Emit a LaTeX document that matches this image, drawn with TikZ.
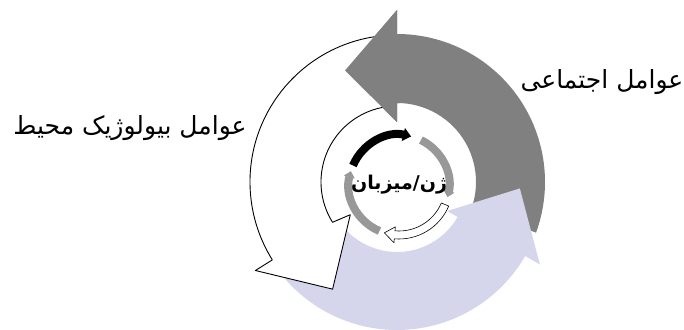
\documentclass[tikz,border=0pt]{standalone}
\usepackage{fontspec}
\newfontfamily\arabicfont[Script=Arabic]{DejaVu Sans}
\TeXXeTstate=1
\usetikzlibrary{arrows.meta}
\definecolor{socialgray}{RGB}{128,128,128}
\definecolor{biolilac}{RGB}{213,214,236}
\definecolor{ringgray}{RGB}{152,152,152}
\tikzset{
  socialband/.style={fill=socialgray},
  bioband/.style={fill=biolilac},
  envband/.style={fill=white, draw=black, line width=0.9pt, line join=round},
  ringarc/.style={line width=8pt, -{Triangle[width=13pt,length=8pt]}},
  factor/.style={font=\arabicfont\fontsize{25}{30}\selectfont, inner sep=0pt},
}
\begin{document}
\begin{tikzpicture}[x=1pt, y=1pt]
\useasboundingbox (-397,-147) rectangle (287,182);
\fill[socialband] (-20:148) arc[start angle=-20, end angle=90, radius=148] -- (90:172) -- (115:123) -- (90:60) -- (90:79) arc[start angle=90, end angle=-20, radius=79] -- cycle;
\fill[bioband] (215:148) arc[start angle=215, end angle=330, radius=148] -- (330:165) -- (357:123) -- (330:58) -- (330:70) arc[start angle=330, end angle=215, radius=70] -- cycle;
\draw[envband] (95:147) arc[start angle=95, end angle=212, radius=147] -- (212:167) -- (239:125) -- (215:57) -- (212:76) arc[start angle=212, end angle=95, radius=76] -- cycle;
\fill[socialband] (88:148) arc[start angle=88, end angle=90, radius=148] -- (90:172) -- (115:123) -- (90:60) -- (90:79) arc[start angle=90, end angle=88, radius=79] -- cycle;
\begin{scope}[shift={(2,-3)}]
\draw[ringarc, black] (157:50) arc[start angle=157, end angle=76, radius=50];
\draw[ringarc, ringgray, -{Triangle[width=11pt,length=6pt]}] (64:50) arc[start angle=64, end angle=-14, radius=50];
\draw[ringarc, ringgray, -{Triangle[width=11pt,length=6pt]}] (247:50) arc[start angle=247, end angle=164, radius=50];
\draw[envband, line width=0.6pt] (-23:54) arc[start angle=-23, end angle=-95, radius=54] -- (-95:58) -- (-107:50) -- (-95:42) -- (-95:46) arc[start angle=-95, end angle=-23, radius=46] -- cycle;
\node[font=\arabicfont\bfseries\fontsize{19}{23}\selectfont, inner sep=0pt] (host) at (0,0) {\beginR ژن/میزبان\endR};
\end{scope}
\node[factor] (environment) at (-267,54) {\beginR عوامل بیولوژیک محیط\endR};
\node[factor] (social) at (205,100) {\beginR عوامل اجتماعی\endR};
\end{tikzpicture}
\end{document}
